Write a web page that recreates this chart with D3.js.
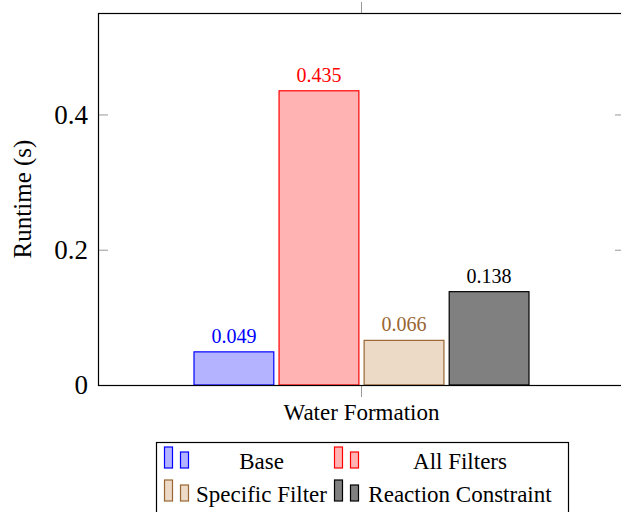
<!doctype html>
<html>
<head>
<script src="https://d3js.org/d3.v7.min.js"></script>
<style>
  body { margin: 0; background: #fff; }
</style>
</head>
<body>
<svg width="621" height="512"></svg>
<script>
// data
var categories = ["Water Formation"];
var series = ["Base", "All Filters", "Specific Filter", "Reaction Constraint"];
var values = [0.049, 0.435, 0.066, 0.138];
var yTicks = [0, 0.2, 0.4];

var strokes = ["#0000ff", "#ff0000", "#996633", "#000000"];
var fills = ["#b3b3ff", "#ffb3b3", "#ecd9c6", "#808080"];
var labelColors = ["#0000ff", "#ff0000", "#996633", "#000000"];

var serif = "Liberation Serif";
var svg = d3.select("svg"),
    plotLeft = 98, plotRight = 625, plotTop = 13, plotBottom = 385;

var x = d3.scaleBand().domain(categories).range([plotLeft, plotRight]);
var y = d3.scaleLinear().domain([0, 0.55]).range([plotBottom, plotTop]);

// ticks
var tickColor = "#999";
var gl = svg.append("g").attr("transform", "translate(" + plotLeft + ",0)")
    .call(d3.axisLeft(y).tickValues(yTicks).tickSize(-10).tickPadding(10).tickFormat(d3.format("~g")));
var gr = svg.append("g").attr("transform", "translate(" + plotRight + ",0)")
    .call(d3.axisRight(y).tickValues(yTicks).tickSize(-10).tickFormat(""));
var gb = svg.append("g").attr("transform", "translate(0," + plotBottom + ")")
    .call(d3.axisBottom(x).tickSize(12).tickPadding(7));
var gt = svg.append("g").attr("transform", "translate(0," + plotTop + ")")
    .call(d3.axisTop(x).tickSize(11).tickFormat(""));

[gl, gr, gb, gt].forEach(function(g) {
    g.attr("font-family", serif);
    g.select(".domain").remove();
    g.selectAll(".tick line").attr("stroke", tickColor);
});
gl.selectAll(".tick text")
    .style("font-family", serif).style("font-size", "27px").attr("fill", "#000");
gb.selectAll(".tick text")
    .style("font-family", serif).style("font-size", "23px").attr("fill", "#000");

// bars
var cx = x(categories[0]) + x.bandwidth() / 2;
var xs = d3.scaleBand().domain(series).range([cx - 168, cx + 168]).paddingInner(0.05);

var bars = series.map(function(s, i) { return { name: s, value: values[i], i: i }; });

svg.append("g").selectAll("rect")
    .data(bars)
    .enter()
    .append("rect")
    .attr("x", d => xs(d.name) + 0.5)
    .attr("y", d => y(d.value))
    .attr("width", xs.bandwidth() - 1)
    .attr("height", d => y(0) - y(d.value))
    .attr("fill", d => fills[d.i])
    .attr("stroke", d => strokes[d.i])
    .attr("stroke-width", 1.2);

svg.append("g").selectAll("text")
    .data(bars)
    .enter()
    .append("text")
    .attr("x", d => xs(d.name) + xs.bandwidth() / 2)
    .attr("y", d => y(d.value) - 9)
    .attr("text-anchor", "middle")
    .style("font-family", serif)
    .style("font-size", "20px")
    .attr("fill", d => labelColors[d.i])
    .text(d => d3.format(".3f")(d.value));

// frame
svg.append("rect")
    .attr("x", plotLeft + 0.5).attr("y", plotTop + 0.5)
    .attr("width", plotRight - plotLeft).attr("height", plotBottom - plotTop)
    .attr("fill", "none").attr("stroke", "#000").attr("stroke-width", 1.2);

// y label
svg.append("text")
    .attr("transform", "translate(31," + (plotTop + plotBottom) / 2 + ")rotate(-90)")
    .attr("text-anchor", "middle")
    .style("font-family", serif)
    .style("font-size", "25px")
    .text("Runtime (s)");

// legend
var legend = svg.append("g");
legend.append("rect")
    .attr("x", 156.5).attr("y", 442.5).attr("width", 412).attr("height", 90)
    .attr("fill", "#fff").attr("stroke", "#000").attr("stroke-width", 1.2);

var colX = [164, 334], colText = [261.5, 460], rowBase = [468, 501];
var items = legend.selectAll("g.item")
    .data(bars)
    .enter()
    .append("g")
    .attr("class", "item")
    .attr("transform", d => "translate(" + colX[d.i % 2] + "," + rowBase[Math.floor(d.i / 2)] + ")");

items.append("rect")
    .attr("x", 0.5).attr("y", -21).attr("width", 8).attr("height", 21)
    .attr("fill", d => fills[d.i]).attr("stroke", d => strokes[d.i]).attr("stroke-width", 1.2);
items.append("rect")
    .attr("x", 16.5).attr("y", -16).attr("width", 8).attr("height", 16)
    .attr("fill", d => fills[d.i]).attr("stroke", d => strokes[d.i]).attr("stroke-width", 1.2);
items.append("text")
    .attr("x", d => colText[d.i % 2] - colX[d.i % 2])
    .attr("y", 1)
    .attr("text-anchor", "middle")
    .style("font-family", serif)
    .style("font-size", "23px")
    .text(d => d.name);
</script>
</body>
</html>
